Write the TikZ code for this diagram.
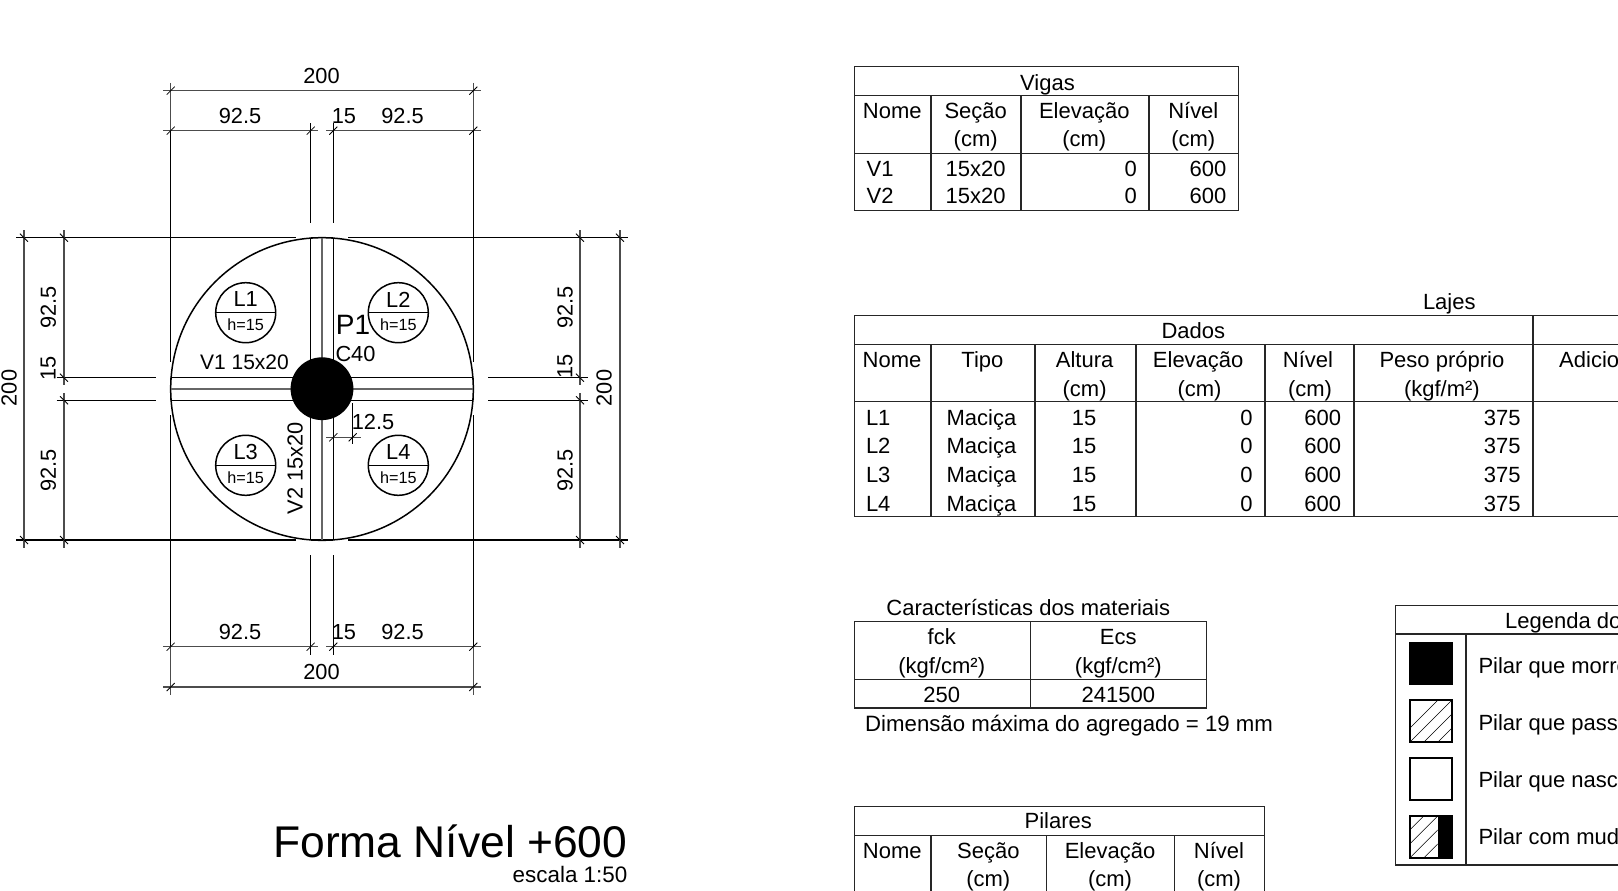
\documentclass[tikz,border=0pt]{standalone}
\usepackage{fontspec}
\setmainfont{Liberation Sans}
\newcommand{\fsize}[1]{\fontsize{#1}{#1}\selectfont}
\begin{document}
\begin{tikzpicture}[x=1pt,y=-1pt,
    wall/.style = {black, line width=1.5pt},
    thinwall/.style = {black, line width=1.2pt},
    dimline/.style = {black!70, line width=1.2pt},
    midline/.style = {black!60, line width=1.2pt},
    tick/.style = {black, line width=0.8pt},
    gridline/.style = {black!85, line width=1.2pt},
    txt/.style = {font=\fsize{22}, inner sep=0pt, anchor=base},
    txtl/.style = {txt, anchor=base west},
    txtr/.style = {txt, anchor=base east},
    dimtxt/.style = {font=\fsize{21.8}, inner sep=0pt, anchor=center},
    hatchbox/.style = {black, line width=1.6pt}]
\useasboundingbox (0,0) rectangle (1618,891);
\clip (0,0) rectangle (1618,891);

% planta
\draw[wall] (322,389) circle [radius=151.3];
\foreach \y in {237.7,540} {
    \draw[thinwall] (16,\y) -- (296,\y);
    \draw[thinwall] (348,\y) -- (628,\y);
    \draw[wall] (310.7,\y) -- (333.3,\y);
}
\foreach \x in {170.7,473.3} {
    \draw[thinwall] (\x,130.7) -- (\x,362);
    \draw[thinwall] (\x,415) -- (\x,646.7);
    \draw[wall] (\x,377.7) -- (\x,400.3);
    \draw[dimline] (\x,83) -- (\x,130.7);
    \draw[dimline] (\x,646.7) -- (\x,695);
}
\foreach \x in {310.7,333.3} {
    \draw[thinwall] (\x,123) -- (\x,223);
    \draw[wall] (\x,237.7) -- (\x,540);
    \draw[thinwall] (\x,555) -- (\x,655);
}
\foreach \y in {377.7,400.3} {
    \draw[thinwall] (56.7,\y) -- (156,\y);
    \draw[thinwall] (488,\y) -- (587.7,\y);
    \draw[wall] (170.7,\y) -- (473.3,\y);
}
\draw[midline] (322,237.7) -- (322,540);
\draw[midline] (170.7,389) -- (473.3,389);
\fill[black] (322,388.7) circle [radius=31.4];

% cotas
\foreach \y in {90.7,687} {
    \draw[dimline] (163,\y) -- (481,\y);
    \foreach \x in {170.7,473.3}
        \draw[tick] (\x,\y) +(-4,4) -- +(4,-4);
}
\foreach \y in {130.7,646.7} {
    \draw[dimline] (163,\y) -- (318,\y);
    \draw[dimline] (326,\y) -- (481,\y);
    \foreach \x in {170.7,310.7,333.3,473.3}
        \draw[tick] (\x,\y) +(-4,4) -- +(4,-4);
}
\foreach \x in {24,620} {
    \draw[dimline] (\x,230) -- (\x,548);
    \foreach \y in {237.7,540}
        \draw[tick] (\x,\y) +(-4,-4) -- +(4,4);
}
\foreach \x in {64,580} {
    \draw[dimline] (\x,230) -- (\x,385);
    \draw[dimline] (\x,393) -- (\x,548);
    \foreach \y in {237.7,377.7,400.3,540}
        \draw[tick] (\x,\y) +(-4,-4) -- +(4,4);
}
\draw[dimline] (326,437.3) -- (360.7,437.3);
\draw[thinwall] (352.7,403) -- (352.7,444);
\foreach \x in {333.3,352.7}
    \draw[tick] (\x,437.3) +(-4,4) -- +(4,-4);

\foreach \t/\x/\y [count=\i] in {200/321.5/75.7, 92.5/240/115.7, 15/344/115.7, 92.5/402.5/115.7,
        92.5/240/631.7, 15/344/631.7, 92.5/402.5/631.7, 200/321.5/671.7, 12.5/373/421.7}
    \node[dimtxt] (cotah\i) at (\x,\y) {\t};
\foreach \t/\x/\y [count=\i] in {92.5/48.3/307.5, 15/48.3/368, 200/9/388, 92.5/48.3/470.7,
        92.5/565/307.5, 15/565/366.7, 200/604/388, 92.5/565/470.7}
    \node[dimtxt,rotate=90] (cotav\i) at (\x,\y) {\t};

% lajes
\foreach \x/\y [count=\i] in {245.7/312.7, 398.3/312.7, 245.7/465.3, 398.3/465.3} {
    \draw[wall] (\x,\y) circle [radius=30];
    \draw[wall] (\x-30,\y) -- (\x+30,\y);
    \node[dimtxt] (laje\i) at (\x,\y-13.3) {L\i};
    \node[dimtxt,font=\fsize{16.2}] (alt\i) at (\x,\y+12.2) {h=15};
}
\node[dimtxt,font=\fsize{28}] (pilar) at (353,325) {P1};
\node[dimtxt] (conc) at (355.5,354) {C40};
\node[dimtxt,font=\fsize{21}] (viga1) at (244.5,362) {V1 15x20};
\node[dimtxt,rotate=90] (viga2) at (295,468) {V2 15x20};

\node[inner sep=0pt, anchor=base east, font=\fsize{44.4}] (titulo) at (627.5,857) {Forma Nível +600};
\node[inner sep=0pt, anchor=base east, font=\fsize{22.4}] (escala) at (627.5,882) {escala 1:50};

% tabela vigas
\draw[gridline] (854.3,66.7) rectangle (1238.3,210.7);
\foreach \y in {95.7,153.3}
    \draw[gridline] (854.3,\y) -- (1238.3,\y);
\foreach \x in {931,1021,1149}
    \draw[gridline] (\x,95.7) -- (\x,210.7);
\node[txt] (vigas) at (1047.5,90.3) {Vigas};
\foreach \t/\x [count=\i] in {Nome/892.3, Seção/975.7, Elevação/1084.3, Nível/1193.3}
    \node[txt] (vigah\i) at (\x,118.3) {\t};
\foreach \x [count=\i] in {975.7,1084.3,1193.3}
    \node[txt] (vigau\i) at (\x,146.7) {(cm)};
\foreach \y [count=\i] in {176,203.3} {
    \node[txtl] (vn\i) at (866.5,\y) {V\i};
    \node[txt] (vs\i) at (975.7,\y) {15x20};
    \node[txtr] (ve\i) at (1137,\y) {0};
    \node[txtr] (vl\i) at (1226.5,\y) {600};
}

% tabela lajes
\draw[gridline] (854.3,315.7) -- (1618,315.7);
\draw[gridline] (854.3,344.3) -- (1618,344.3);
\draw[gridline] (854.3,401.7) -- (1618,401.7);
\draw[gridline] (854.3,516.7) -- (1618,516.7);
\draw[gridline] (854.3,315.7) -- (854.3,516.7);
\draw[gridline] (1533,315.7) -- (1533,516.7);
\foreach \x in {931,1035,1136,1265,1354}
    \draw[gridline] (\x,344.3) -- (\x,516.7);
\node[txt] (lajes) at (1449.3,309.3) {Lajes};
\node[txt] (dados) at (1193.3,338.3) {Dados};
\foreach \t/\x [count=\i] in {Nome/892, Tipo/982.4, Altura/1084.6, Elevação/1198.2, Nível/1308, Peso próprio/1441.9}
    \node[txt] (lajeh\i) at (\x,367.3) {\t};
\node[txtl] (adic) at (1559,367.3) {Adicio};
\foreach \x [count=\i] in {1084.6,1199.5,1310}
    \node[txt] (lajeu\i) at (\x,396) {(cm)};
\node[txt] (lajep) at (1441.9,396) {(kgf/m²)};
\foreach \y [count=\i] in {425,453.3,482.2,511} {
    \node[txtl] (ln\i) at (865.8,\y) {L\i};
    \node[txt] (lt\i) at (981.4,\y) {Maciça};
    \node[txt] (la\i) at (1084,\y) {15};
    \node[txtr] (le\i) at (1252.8,\y) {0};
    \node[txtr] (lv\i) at (1341.2,\y) {600};
    \node[txtr] (lp\i) at (1520.8,\y) {375};
}

% materiais
\draw[gridline] (854.3,621.7) rectangle (1206.7,708);
\draw[gridline] (854.3,679.3) -- (1206.7,679.3);
\draw[gridline] (1030.7,621.7) -- (1030.7,708);
\node[txt] (mattit) at (1028.3,615) {Características dos materiais};
\node[txt] (fck) at (941.7,644) {fck};
\node[txt] (ecs) at (1118.3,644) {Ecs};
\node[txt] (fcku) at (941.7,673.3) {(kgf/cm²)};
\node[txt] (ecsu) at (1118.3,673.3) {(kgf/cm²)};
\node[txt] (fckv) at (941.7,702.3) {250};
\node[txt] (ecsv) at (1118.3,702.3) {241500};
\node[txtl,font=\fsize{22.2}] (agreg) at (865,731) {Dimensão máxima do agregado = 19 mm};

% tabela pilares
\draw[gridline] (854.3,891) -- (854.3,806.7) -- (1264.3,806.7) -- (1264.3,891);
\draw[gridline] (854.3,835.7) -- (1264.3,835.7);
\foreach \x in {931,1046.7,1174.3}
    \draw[gridline] (\x,835.7) -- (\x,891);
\node[txt] (pilares) at (1058.3,828.3) {Pilares};
\foreach \t/\x [count=\i] in {Nome/892.3, Seção/988.3, Elevação/1110, Nível/1219}
    \node[txt] (pilh\i) at (\x,858.3) {\t};
\foreach \x [count=\i] in {988.3,1110,1219}
    \node[txt] (pilu\i) at (\x,886.7) {(cm)};

% legenda
\draw[gridline] (1618,605.3) -- (1395.3,605.3) -- (1395.3,865) -- (1618,865);
\draw[gridline] (1395.3,634) -- (1618,634);
\draw[gridline] (1466,634) -- (1466,865);
\node[txtl] (legenda) at (1505,628.3) {Legenda do};
\fill[black] (1409,641.7) rectangle (1452.7,685);
\begin{scope}
    \clip (1410,700) rectangle (1452,742);
    \foreach \k in {0,...,6}
        \draw[black,line width=0.6pt] (1396+14*\k,742) -- (1438+14*\k,700);
\end{scope}
\draw[hatchbox] (1410,700) rectangle (1452,742);
\draw[hatchbox] (1410,757.7) rectangle (1451.7,800);
\begin{scope}
    \clip (1410,815.7) rectangle (1437.7,857.7);
    \foreach \k in {0,...,6}
        \draw[black,line width=0.6pt] (1382+14*\k,857.7) -- (1424+14*\k,815.7);
\end{scope}
\fill[black] (1437.7,815.7) rectangle (1452,857.7);
\draw[hatchbox] (1410,815.7) rectangle (1452,857.7);
\foreach \t/\y [count=\i] in {Pilar que morre/673.5, Pilar que pass/730.3, Pilar que nasc/787.2, Pilar com mud/844}
    \node[txtl] (leg\i) at (1478.3,\y) {\t};
\end{tikzpicture}
\end{document}
